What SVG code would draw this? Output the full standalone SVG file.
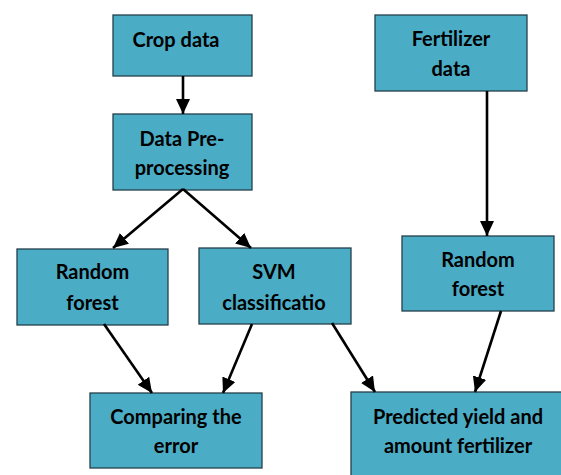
<svg xmlns="http://www.w3.org/2000/svg" width="561" height="475" viewBox="0 0 561 475">
<defs>
<marker id="ah" markerUnits="userSpaceOnUse" markerWidth="16" markerHeight="16" viewBox="0 0 16 16" refX="15" refY="8" orient="auto">
<path d="M0,1 L15,8 L0,15 Z" fill="#000"/>
</marker>
<style>
.box{fill:#4BACC6;stroke:#24404c;stroke-width:1.3}
.t{font-family:Lato,"Open Sans","Liberation Sans",sans-serif;font-weight:bold;font-size:20px;fill:#000;text-anchor:middle}
.c{stroke:#000;stroke-width:2.6;fill:none;marker-end:url(#ah)}
</style>
</defs>
<rect width="561" height="475" fill="#fff"/>
<g id="crop"><rect class="box" x="113" y="15" width="139" height="61"/><text class="t" x="176" y="47">Crop data</text></g>
<g id="prep"><rect class="box" x="113" y="114" width="139" height="76"/><text class="t" x="182" y="146">Data Pre-</text><text class="t" x="182" y="175">processing</text></g>
<g id="fert"><rect class="box" x="375" y="15" width="152" height="76"/><text class="t" x="451" y="46">Fertilizer</text><text class="t" x="451" y="76">data</text></g>
<g id="rf1"><rect class="box" x="17" y="249" width="151" height="76"/><text class="t" x="92.5" y="279">Random</text><text class="t" x="92.5" y="310">forest</text></g>
<g id="svm"><rect class="box" x="199" y="248" width="152" height="76"/><text class="t" x="274" y="279">SVM</text><text class="t" x="274" y="310">classificatio</text></g>
<g id="rf2"><rect class="box" x="402" y="236" width="152" height="75"/><text class="t" x="478" y="267">Random</text><text class="t" x="478" y="296">forest</text></g>
<g id="cmp"><rect class="box" x="90" y="393" width="172" height="75"/><text class="t" x="176" y="424">Comparing the</text><text class="t" x="176" y="453">error</text></g>
<g id="pred"><rect class="box" x="351" y="392" width="220" height="95"/><text class="t" x="458" y="424">Predicted yield and</text><text class="t" x="458" y="453">amount fertilizer</text></g>
<g id="connectors">
<line class="c" x1="183" y1="76" x2="183" y2="114"/>
<line class="c" x1="183" y1="189" x2="113" y2="248"/>
<line class="c" x1="183" y1="189" x2="251" y2="248"/>
<line class="c" x1="487" y1="91" x2="487" y2="236"/>
<line class="c" x1="104" y1="324" x2="152" y2="393"/>
<line class="c" x1="252" y1="324" x2="223" y2="393"/>
<line class="c" x1="332" y1="323" x2="375" y2="392"/>
<line class="c" x1="501" y1="311" x2="475" y2="392"/>
</g>
</svg>
